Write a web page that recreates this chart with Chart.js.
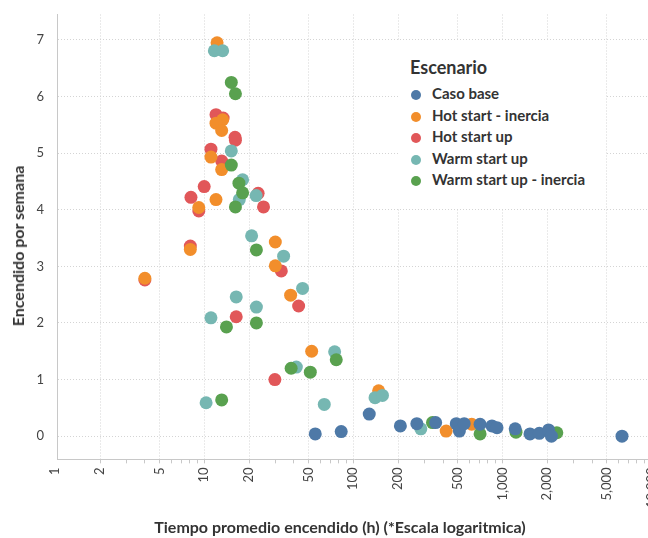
<!DOCTYPE html>
<html>
<head>
<meta charset="utf-8">
<script src="https://cdn.jsdelivr.net/npm/chart.js@4.4.1/dist/chart.umd.min.js"></script>
<style>
    html, body { margin: 0; padding: 0; background: #fff; }
    #wrap { position: relative; width: 648px; height: 538px; overflow: hidden; font-family: Lato, sans-serif; color: #333; }
    #chart { position: absolute; left: 0; top: 0; }
    .axisTitle { position: absolute; font-weight: bold; font-size: 16px; line-height: 18px; white-space: nowrap; }
    #xTitle { left: 340px; top: 518px; transform: translateX(-50%); }
    #yTitle { left: 18px; top: 246px; transform: translate(-50%, -50%) rotate(-90deg); }
    #legend { position: absolute; left: 398px; top: 41px; width: 207px; height: 167px; background: #fff; }
    #legend .title { position: absolute; left: 12px; top: 14px; font-weight: bold; font-size: 18px; line-height: 24px; }
    #legend ul { position: absolute; left: 0; top: 42px; margin: 0; padding: 0; list-style: none; }
    #legend li { height: 21.5px; line-height: 21.5px; font-weight: bold; font-size: 15px; white-space: nowrap; }
    #legend .dot { display: inline-block; width: 10px; height: 10px; border-radius: 50%; margin: 0 11px 0 13px; vertical-align: -1px; }
</style>
</head>
<body>
<div id="wrap">
    <canvas id="chart" width="671" height="538"></canvas>
    <div id="xTitle" class="axisTitle">Tiempo promedio encendido (h) (*Escala logaritmica)</div>
    <div id="yTitle" class="axisTitle">Encendido por semana</div>
    <div id="legend">
        <div class="title">Escenario</div>
        <ul id="legendItems"></ul>
    </div>
</div>
<script>
// Series names and colours (legend order)
const seriesNames = ["Caso base", "Hot start - inercia", "Hot start up", "Warm start up", "Warm start up - inercia"];
const seriesColors = ["#4e79a7", "#f28e2b", "#e15759", "#76b7b2", "#59a14f"];
// drawing weight: lower number is drawn on top
const seriesOrder = [0, 3, 4, 2, 1];

// Caso base
const casoBaseX = [55.6, 83, 128, 207, 267, 357, 491, 515, 555, 709, 852, 921, 1220, 1533, 1770, 2043, 2135, 6350];
const casoBaseY = [0.04, 0.08, 0.39, 0.18, 0.22, 0.24, 0.22, 0.09, 0.22, 0.21, 0.18, 0.15, 0.13, 0.04, 0.05, 0.11, 0.0, 0.0];

// Hot start - inercia
const hotInerciaX = [12.2, 13.3, 12.0, 13.1, 11.1, 13.1, 12.0, 9.2, 8.07, 4.0, 30, 30, 38, 52.6, 148, 420, 623];
const hotInerciaY = [6.95, 5.59, 5.53, 5.40, 4.93, 4.71, 4.18, 4.04, 3.30, 2.79, 3.43, 3.01, 2.49, 1.50, 0.80, 0.09, 0.21];

// Hot start up
const hotStartX = [12.0, 13.4, 16.1, 16.2, 11.1, 13.1, 10.0, 8.15, 23, 25, 9.2, 8.07, 4.0, 32.9, 43, 16.4, 29.8];
const hotStartY = [5.68, 5.62, 5.28, 5.23, 5.07, 4.86, 4.41, 4.22, 4.29, 4.05, 3.98, 3.36, 2.76, 2.92, 2.30, 2.11, 1.00];

// Warm start up
const warmStartX = [11.7, 13.3, 15.2, 18.1, 17.2, 22.3, 20.8, 34.1, 45.7, 16.4, 22.4, 11.1, 41.5, 75, 10.3, 63.9, 140, 157, 284];
const warmStartY = [6.81, 6.81, 5.04, 4.53, 4.18, 4.25, 3.54, 3.18, 2.61, 2.46, 2.28, 2.09, 1.22, 1.49, 0.59, 0.56, 0.68, 0.72, 0.13];

// Warm start up - inercia
const warmInerciaX = [15.2, 16.2, 15.2, 17.1, 18.1, 16.2, 22.4, 22.4, 14.1, 38.3, 51.5, 76.9, 13.1, 340, 709, 1235, 2320];
const warmInerciaY = [6.25, 6.05, 4.79, 4.47, 4.30, 4.05, 3.29, 2.00, 1.93, 1.20, 1.13, 1.35, 0.64, 0.24, 0.04, 0.07, 0.06];

// Tick labels
const xTicks = [1, 2, 5, 10, 20, 50, 100, 200, 500, 1000, 2000, 5000, 10000];
const yTicks = [0, 1, 2, 3, 4, 5, 6, 7];

const seriesX = [casoBaseX, hotInerciaX, hotStartX, warmStartX, warmInerciaX];
const seriesY = [casoBaseY, hotInerciaY, hotStartY, warmStartY, warmInerciaY];

// axis range
const xMin = 1.03, xMax = 10000;
const yMin = -0.41, yMax = 7.45;

// minor tick marks (no label, no grid line) inside every decade
const xMinor = [];
[1, 10, 100, 1000].forEach(d => [3, 4, 6, 7, 8, 9].forEach(m => xMinor.push(d * m)));
const xAllTicks = xTicks.concat(xMinor).sort((a, b) => a - b);

const datasets = seriesNames.map((name, i) => ({
    label: name,
    data: seriesX[i].map((x, j) => ({ x: x, y: seriesY[i][j] })),
    backgroundColor: seriesColors[i],
    pointBackgroundColor: seriesColors[i],
    borderWidth: 0,
    pointBorderWidth: 0,
    pointRadius: 6.5,
    order: seriesOrder[i]
}));

// html legend
const legendList = document.getElementById("legendItems");
seriesNames.forEach((name, i) => {
    const li = document.createElement("li");
    li.innerHTML = '<span class="dot" style="background:' + seriesColors[i] + '"></span>' + name;
    legendList.appendChild(li);
});

const gridColor = "#d4d4d4";
const axisColor = "#c8c8c8";
const clear = "rgba(0,0,0,0)";
const tickFont = { family: "Lato", size: 13 };

new Chart(document.getElementById("chart"), {
    type: "scatter",
    data: { datasets: datasets },
    options: {
        responsive: false,
        animation: false,
        layout: { padding: { left: 36.5, top: 14.5, right: 0, bottom: 26 } },
        plugins: {
            legend: { display: false },
            tooltip: { enabled: false }
        },
        scales: {
            x: {
                type: "logarithmic",
                min: xMin,
                max: xMax,
                afterBuildTicks: scale => {
                    scale.ticks = xAllTicks.map(v => ({ value: v }));
                },
                ticks: {
                    autoSkip: false,
                    minRotation: 90,
                    maxRotation: 90,
                    padding: 4,
                    color: "#444",
                    font: tickFont,
                    callback: value => xTicks.includes(value) ? value.toLocaleString("en-US") : ""
                },
                grid: {
                    color: ctx => (ctx.tick && ctx.tick.value >= xMin && xTicks.includes(ctx.tick.value)) ? gridColor : clear,
                    tickColor: ctx => (ctx.tick && ctx.tick.value >= xMin) ? axisColor : clear,
                    tickLength: 4
                },
                border: { color: axisColor, dash: [1, 2] }
            },
            y: {
                min: yMin,
                max: yMax,
                afterBuildTicks: scale => {
                    scale.ticks = yTicks.map(v => ({ value: v }));
                },
                ticks: {
                    padding: 6.5,
                    crossAlign: "far",
                    color: "#444",
                    font: tickFont
                },
                grid: { color: gridColor, drawTicks: false },
                border: { color: axisColor, dash: [1, 2] }
            }
        }
    }
});
</script>
</body>
</html>
